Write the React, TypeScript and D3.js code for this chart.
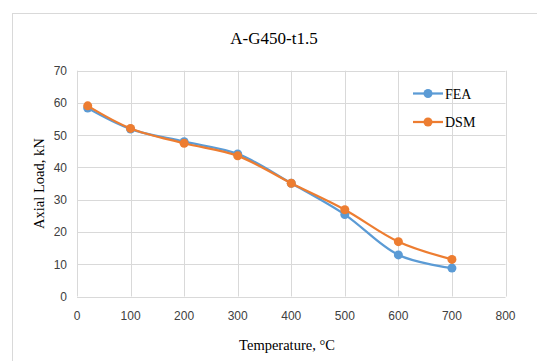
import { useEffect, useRef } from 'react'
import * as d3 from 'd3'

const temps = [20, 100, 200, 300, 400, 500, 600, 700]
const feaValues = [58.4, 51.9, 48.0, 44.2, 35.1, 25.4, 12.9, 8.8]
const dsmValues = [59.1, 52.1, 47.5, 43.6, 35.1, 26.9, 17.0, 11.5]
const xTicks = [0, 100, 200, 300, 400, 500, 600, 700, 800]
const yTicks = [0, 10, 20, 30, 40, 50, 60, 70]
const seriesNames = ['FEA', 'DSM']
const seriesColors = ['#5B9BD5', '#ED7D31']

export default function App() {
  const svgRef = useRef<SVGSVGElement>(null)

  useEffect(() => {
    if (!svgRef.current) return
    const svg = d3.select(svgRef.current)
    svg.selectAll('*').remove()

    const width = 537
    const height = 361

    // chart frame
    svg.append('rect')
      .attr('x', 12.5).attr('y', 13.5)
      .attr('width', 540).attr('height', 360)
      .attr('fill', '#fff').attr('stroke', '#d9d9d9')

    const x = d3.scaleLinear().domain([0, 800]).range([77, 505.5])
    const y = d3.scaleLinear().domain([0, 70]).range([296.5, 70.7])

    const grid = svg.append('g')
    grid.selectAll('line.h').data(yTicks).join('line')
      .attr('x1', x(0)).attr('x2', x(800))
      .attr('y1', d => Math.round(y(d)) + 0.5).attr('y2', d => Math.round(y(d)) + 0.5)
      .attr('stroke', '#d9d9d9')
    grid.selectAll('line.v').data(xTicks).join('line')
      .attr('y1', y(0)).attr('y2', y(70))
      .attr('x1', d => Math.round(x(d)) + 0.5).attr('x2', d => Math.round(x(d)) + 0.5)
      .attr('stroke', '#d9d9d9')

    // tick labels
    svg.append('g').selectAll('text').data(yTicks).join('text')
      .attr('x', 67).attr('y', d => y(d) + 4.5)
      .attr('text-anchor', 'end')
      .attr('font-family', 'Liberation Sans, Arial, sans-serif')
      .attr('font-size', 12).attr('fill', '#404040')
      .text(d => d)
    svg.append('g').selectAll('text').data(xTicks).join('text')
      .attr('x', d => x(d)).attr('y', 320)
      .attr('text-anchor', 'middle')
      .attr('font-family', 'Liberation Sans, Arial, sans-serif')
      .attr('font-size', 12).attr('fill', '#404040')
      .text(d => d)

    // titles
    svg.append('text')
      .attr('x', 274).attr('y', 44)
      .attr('text-anchor', 'middle')
      .attr('font-family', 'Liberation Serif, Times New Roman, serif')
      .attr('font-size', 17).attr('fill', '#000')
      .text('A-G450-t1.5')
    svg.append('text')
      .attr('x', 287).attr('y', 350)
      .attr('text-anchor', 'middle')
      .attr('font-family', 'Liberation Serif, Times New Roman, serif')
      .attr('font-size', 14.5).attr('fill', '#000')
      .text('Temperature, °C')
    svg.append('text')
      .attr('transform', `translate(44,${y(35)}) rotate(-90)`)
      .attr('text-anchor', 'middle')
      .attr('font-family', 'Liberation Serif, Times New Roman, serif')
      .attr('font-size', 14.5).attr('fill', '#000')
      .text('Axial Load, kN')

    const line = d3.line<[number, number]>()
      .x(d => x(d[0]))
      .y(d => y(d[1]))
      .curve(d3.curveCatmullRom.alpha(0.5))

    const allSeries = [feaValues, dsmValues]
    allSeries.forEach((vals, i) => {
      const pts: [number, number][] = temps.map((t, j) => [t, vals[j]])
      svg.append('path')
        .datum(pts)
        .attr('fill', 'none')
        .attr('stroke', seriesColors[i])
        .attr('stroke-width', 2.25)
        .attr('stroke-linejoin', 'round')
        .attr('d', line)
      svg.append('g').selectAll('circle').data(pts).join('circle')
        .attr('cx', d => x(d[0])).attr('cy', d => y(d[1]))
        .attr('r', 4.5)
        .attr('fill', seriesColors[i])
    })

    // legend
    const legend = svg.append('g')
    seriesNames.forEach((name, i) => {
      const ly = 93.5 + i * 28.5
      legend.append('line')
        .attr('x1', 413).attr('x2', 443)
        .attr('y1', ly).attr('y2', ly)
        .attr('stroke', seriesColors[i]).attr('stroke-width', 2.25)
      legend.append('circle')
        .attr('cx', 428).attr('cy', ly).attr('r', 4.5)
        .attr('fill', seriesColors[i])
      legend.append('text')
        .attr('x', 445).attr('y', ly + 5)
        .attr('font-family', 'Liberation Serif, Times New Roman, serif')
        .attr('font-size', 14).attr('fill', '#000')
        .text(name)
    })
  }, [])

  return (
    <svg
      ref={svgRef}
      width={537}
      height={361}
      style={{ position: 'absolute', left: 0, top: 0 }}
    />
  )
}
